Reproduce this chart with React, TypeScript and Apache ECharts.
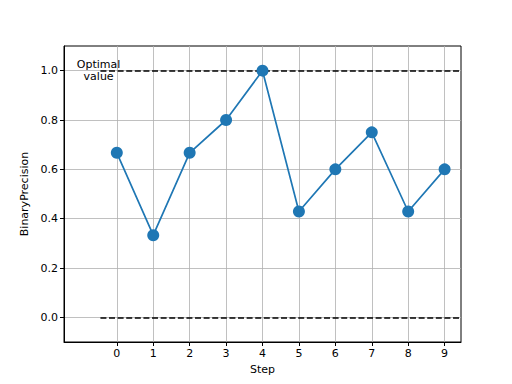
import React, { useEffect, useRef } from "react";
import * as echarts from "echarts";

const steps = [0, 1, 2, 3, 4, 5, 6, 7, 8, 9];
const precision = [0.667, 0.333, 0.667, 0.8, 1.0, 0.429, 0.6, 0.75, 0.429, 0.6];
const xTicks = [0, 1, 2, 3, 4, 5, 6, 7, 8, 9];
const yTicks = [0, 0.2, 0.4, 0.6, 0.8, 1.0];
const optimalUpper = 1.0;
const optimalLower = 0.0;
const lineStart = -0.45;
const lineEnd = 9.45;
const labelX = -0.5;
const labelText = "Optimal\nvalue";

export default function App() {
  const ref = useRef<HTMLDivElement>(null);
  useEffect(() => {
    if (!ref.current) return;
    const chart = echarts.init(ref.current, null, { renderer: "svg" });
    const font = "DejaVu Sans";
    const dash = { color: "#000", width: 1.6, type: [6, 2.6] };
    chart.setOption({
      animation: false,
      backgroundColor: "#fff",
      textStyle: { fontFamily: font },
      grid: {
        left: 64,
        right: 51,
        top: 46,
        bottom: 42,
        show: true,
        borderColor: "#000",
        borderWidth: 1,
        backgroundColor: "transparent",
      },
      xAxis: {
        type: "value",
        min: -1.45,
        max: 9.45,
        name: "Step",
        nameLocation: "middle",
        nameGap: 20,
        nameTextStyle: { color: "#000", fontSize: 11, fontFamily: font },
        axisLine: { show: true, onZero: false, lineStyle: { color: "#000", width: 1 } },
        axisTick: {
          show: true,
          length: 4,
          customValues: xTicks,
          lineStyle: { color: "#000", width: 1 },
        },
        axisLabel: {
          customValues: xTicks,
          color: "#000",
          fontSize: 11,
          fontFamily: font,
          margin: 6,
          formatter: (v: number) => String(v),
        },
        splitLine: { show: true, lineStyle: { color: "#b0b0b0", width: 0.8 } },
      },
      yAxis: {
        type: "value",
        min: -0.1,
        max: 1.1,
        name: "BinaryPrecision",
        nameLocation: "middle",
        nameGap: 29,
        nameTextStyle: { color: "#000", fontSize: 11, fontFamily: font },
        axisLine: { show: true, onZero: false, lineStyle: { color: "#000", width: 1 } },
        axisTick: {
          show: true,
          length: 4,
          customValues: yTicks,
          lineStyle: { color: "#000", width: 1 },
        },
        axisLabel: {
          customValues: yTicks,
          color: "#000",
          fontSize: 11,
          fontFamily: font,
          margin: 6,
          formatter: (v: number) => v.toFixed(1),
        },
        splitLine: { show: true, lineStyle: { color: "#b0b0b0", width: 0.8 } },
      },
      series: [
        {
          type: "line",
          data: steps.map((s, i) => [s, precision[i]]),
          symbol: "circle",
          symbolSize: 12,
          itemStyle: { color: "#1f77b4" },
          lineStyle: { color: "#1f77b4", width: 1.7 },
          z: 4,
          markLine: {
            silent: true,
            symbol: "none",
            label: { show: false },
            lineStyle: dash,
            z: 3,
            data: [
              [
                { coord: [lineStart, optimalUpper] },
                { coord: [lineEnd, optimalUpper] },
              ],
              [
                { coord: [lineStart, optimalLower] },
                { coord: [lineEnd, optimalLower] },
              ],
            ],
          },
        },
      ],
    });
    const p = chart.convertToPixel({ gridIndex: 0 }, [labelX, optimalUpper]) as number[];
    chart.setOption({
      graphic: [
        {
          type: "text",
          x: p[0],
          y: p[1],
          z: 10,
          style: {
            text: labelText,
            fill: "#000",
            font: `11px "${font}"`,
            align: "center",
            verticalAlign: "middle",
            lineHeight: 12,
          },
        },
      ],
    });
    return () => chart.dispose();
  }, []);
  return <div ref={ref} style={{ width: 512, height: 384, position: "absolute", left: 0, top: 0 }} />;
}
